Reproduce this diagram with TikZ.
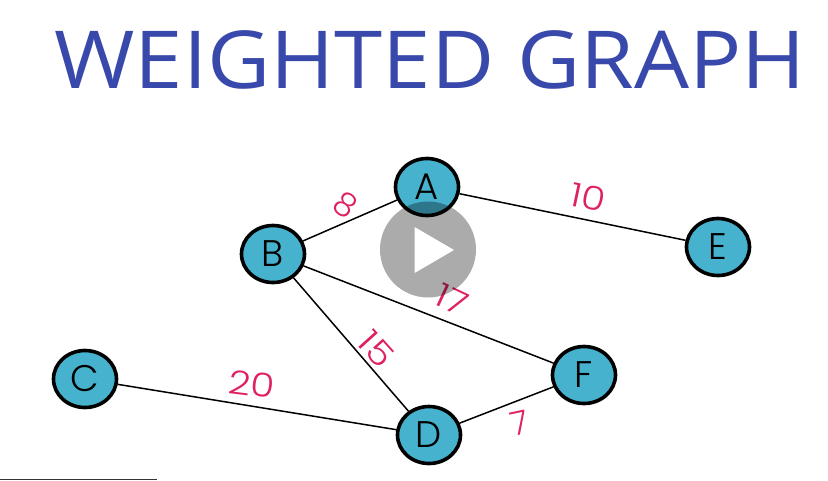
\documentclass[tikz,border=0pt]{standalone}
\usepackage{fontspec}
\setmainfont{Open Sans}
\newfontfamily\labelfont{Poppins Light}
\usetikzlibrary{shapes.geometric}
\definecolor{titleblue}{HTML}{3949AB}
\definecolor{nodeblue}{HTML}{46B2CE}
\definecolor{weightred}{HTML}{DE2160}
\tikzset{
  vertex/.style={ellipse,draw=black,line width=3.6pt,fill=nodeblue,minimum width=63pt,minimum height=57pt,inner sep=0pt,font=\labelfont\fontsize{37}{37}\selectfont,text=black},
  edgeline/.style={line width=1.5pt,black},
  weight/.style={text=weightred,font=\labelfont\fontsize{33}{33}\selectfont,inner sep=0pt},
  wideweight/.style={weight,xscale=1.18}
}
\begin{document}
\begin{tikzpicture}[x=1pt,y=-1pt]
\useasboundingbox (0,0) rectangle (828,480);
\fill[white] (0,0) rectangle (828,480);
\node[text=titleblue,font=\fontsize{80}{80}\selectfont,inner sep=0pt,xscale=1.086] (title) at (430,59.5) {WEIGHTED GRAPH};
\coordinate (ruleL) at (0,479.5);
\coordinate (ruleR) at (157,479.5);
\draw[line width=1.4pt,black!80] (ruleL) -- (ruleR);
\node[vertex] (A) at (427,187) {A};
\node[vertex] (B) at (273,254) {B};
\node[vertex] (C) at (85,379) {C};
\node[vertex] (D) at (429,435) {D};
\node[vertex] (E) at (718,247) {E};
\node[vertex] (F) at (584,375) {F};
\draw[edgeline] (A) -- (B);
\draw[edgeline] (A) -- (E);
\draw[edgeline] (B) -- (F);
\draw[edgeline] (B) -- (D);
\draw[edgeline] (C) -- (D);
\draw[edgeline] (D) -- (F);
\node[weight,rotate=-35] (w8) at (346,205) {8};
\node[rotate=-12,wideweight] (w10) at (588,197) {10};
\node[rotate=-25,wideweight] (w17) at (452,300) {17};
\node[rotate=-48,wideweight] (w15) at (376,349) {15};
\node[rotate=-7,wideweight] (w20) at (252,384) {20};
\node[weight,rotate=12] (w7) at (520,423) {7};
\fill[black,opacity=.33] (428,249.5) circle (48);
\fill[white] (414.5,227) -- (454,250) -- (414.5,273) -- cycle;
\end{tikzpicture}
\end{document}
